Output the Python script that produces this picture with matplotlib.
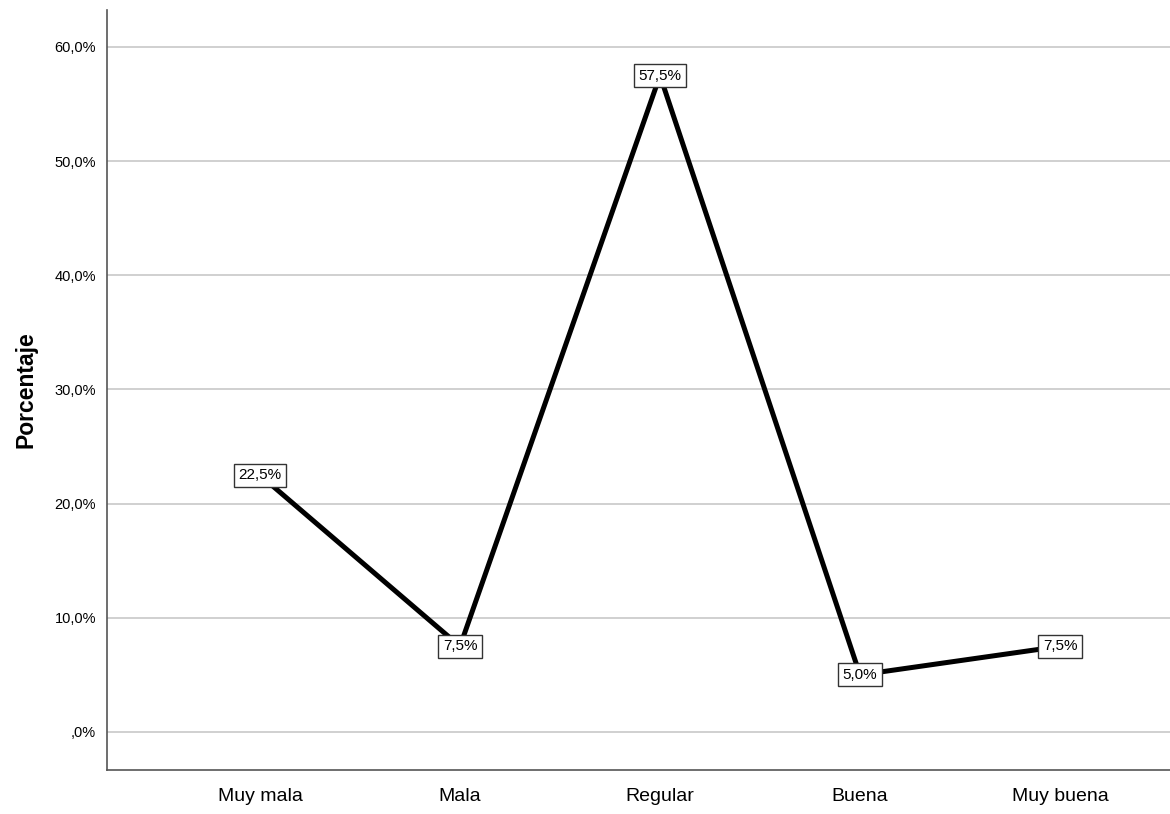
import numpy as np
import matplotlib.pyplot as plt
from matplotlib.ticker import FuncFormatter

categories = ['Muy mala', 'Mala', 'Regular', 'Buena', 'Muy buena']
porcentajes = [22.5, 7.5, 57.5, 5.0, 7.5]
yticks = [0, 10, 20, 30, 40, 50, 60]

fam = ['Liberation Sans', 'DejaVu Sans']

def fmt(v):
    s = '%.1f' % v
    if s.startswith('0'):
        s = s[1:]
    return s.replace('.', ',') + '%'

fig = plt.figure(figsize=(11.7, 8.14), dpi=100)
ax = fig.add_axes([107/1170, 44/814, 1063/1170, 760/814])

x = np.arange(len(categories))
ax.plot(x, porcentajes, color='black', linewidth=3.6, solid_capstyle='butt', zorder=3)

for xi, v in zip(x, porcentajes):
    ax.text(xi, v, fmt(v), ha='center', va='center', fontsize=11, family=fam,
            zorder=4,
            bbox=dict(boxstyle='square,pad=0.3', facecolor='white', edgecolor='#333333', linewidth=1))

ax.set_xlim(-0.765, 4.55)
ax.set_ylim(-3.33, 63.24)
ax.set_yticks(yticks)
ax.yaxis.set_major_formatter(FuncFormatter(lambda v, p: fmt(v)))
ax.set_xticks(x)
ax.set_xticklabels(categories, fontsize=14, family=fam)
for lab in ax.get_yticklabels():
    lab.set_fontsize(10.5)
    lab.set_family(fam)
ax.tick_params(axis='both', length=0, pad=8)
ax.tick_params(axis='x', pad=13)
ax.grid(axis='y', color='#c8c8c8', linewidth=1.2, zorder=0)
ax.set_axisbelow(True)

for s in ['top', 'right']:
    ax.spines[s].set_visible(False)
for s in ['left', 'bottom']:
    ax.spines[s].set_color('#555555')
    ax.spines[s].set_linewidth(1.2)

ax.set_ylabel('Porcentaje', fontsize=16.5, fontweight='bold', family=fam, labelpad=12)

fig.savefig('out.png', dpi=100)
